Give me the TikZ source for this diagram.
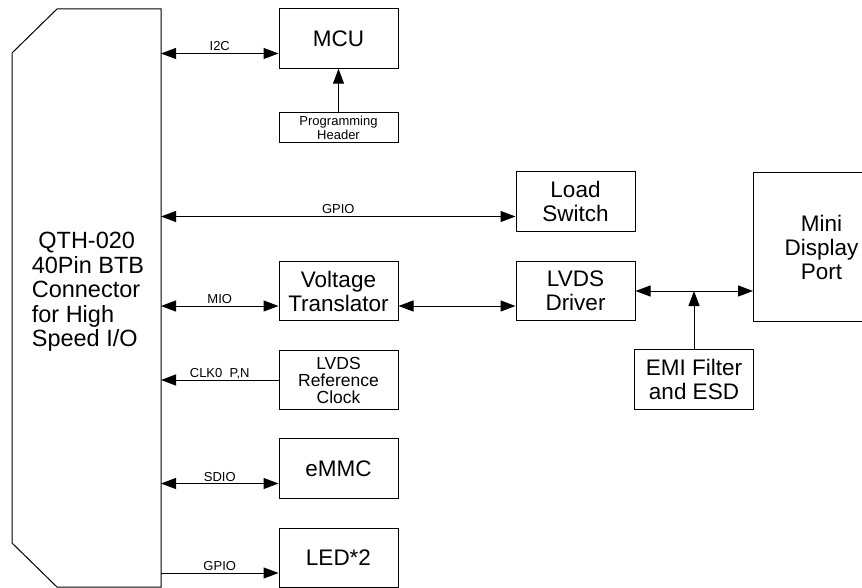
\documentclass[tikz,border=0pt]{standalone}
\usepackage{fontspec}
\setmainfont{Liberation Sans}
\usetikzlibrary{arrows.meta}

\begin{document}
\begin{tikzpicture}[
      x=1pt, y=-1pt,
      box/.style={draw, line width=1pt, minimum width=119pt, minimum height=59.5pt, inner sep=0pt, align=center, font=\fontsize{22.5}{24}\selectfont},
      midbox/.style={box, font=\fontsize{17.5}{17}\selectfont},
      smallbox/.style={box, minimum height=30pt, font=\fontsize{13}{14}\selectfont},
      lbl/.style={font=\fontsize{13}{14}\selectfont, inner sep=2pt, text depth=0pt},
      bus/.style={line width=1pt, {Triangle[length=15pt,width=11pt]}-{Triangle[length=15pt,width=11pt]}},
      sig/.style={line width=1pt, -{Triangle[length=15pt,width=11pt]}}
    ]
    \useasboundingbox (0,0) rectangle (862,588);
    \clip (0,0) rectangle (862,588);
    % connector outline
    \draw[line width=1pt] (161,9) -- (57,9) -- (12,53) -- (12,543) -- (57,587) -- (161,587) -- cycle;
    \node[align=left, font=\fontsize{23.5}{24.5}\selectfont] (conn) at (88,292) {\ QTH-020\\40Pin BTB\\Connector\\for High\\Speed I/O};
    \coordinate (edge) at (161,9);
    % blocks
    \foreach \nm/\x/\y/\txt in {mcu/338.5/38.5/MCU, load/575.5/201.5/{Load\\Switch}, volt/338.5/291/{Voltage\\Translator}, drv/575.5/291/{LVDS\\Driver}, emi/694/379.5/{EMI Filter\\and ESD}, emmc/338.5/468.5/eMMC, led/338.5/558/LED*2} {
      \node[box] (\nm) at (\x,\y) {\txt};
    }
    \node[smallbox] (hdr) at (338.5,128) {Programming\\Header};
    \node[midbox] (clk) at (338.5,380) {LVDS\\Reference\\Clock};
    \node[box, minimum width=136pt, minimum height=149pt, anchor=north west] (mdp) at (753,172) {Mini\\Display\\Port};
    % buses from the connector
    \foreach \nm/\lab/\tip in {mcu/I2C/bus, load/GPIO/bus, volt/MIO/bus, emmc/SDIO/bus, led/GPIO/sig} {
      \coordinate (p) at ([yshift=-15pt]\nm.west);
      \draw[\tip] (edge |- p) -- (p) node[lbl, midway, above] {\lab};
    }
    \draw[sig] (clk.west) -- (clk.west -| edge) node[lbl, midway, above] {CLK0~~P,N};
    \draw[sig] (hdr.north) -- (mcu.south);
    \draw[bus] ([yshift=-15pt]volt.east) -- ([yshift=-15pt]drv.west);
    \draw[bus] (drv.east) -- (drv.east -| mdp.west);
    \draw[sig] (emi.north) -- (emi.north |- drv.east);
  \end{tikzpicture}
\end{document}
